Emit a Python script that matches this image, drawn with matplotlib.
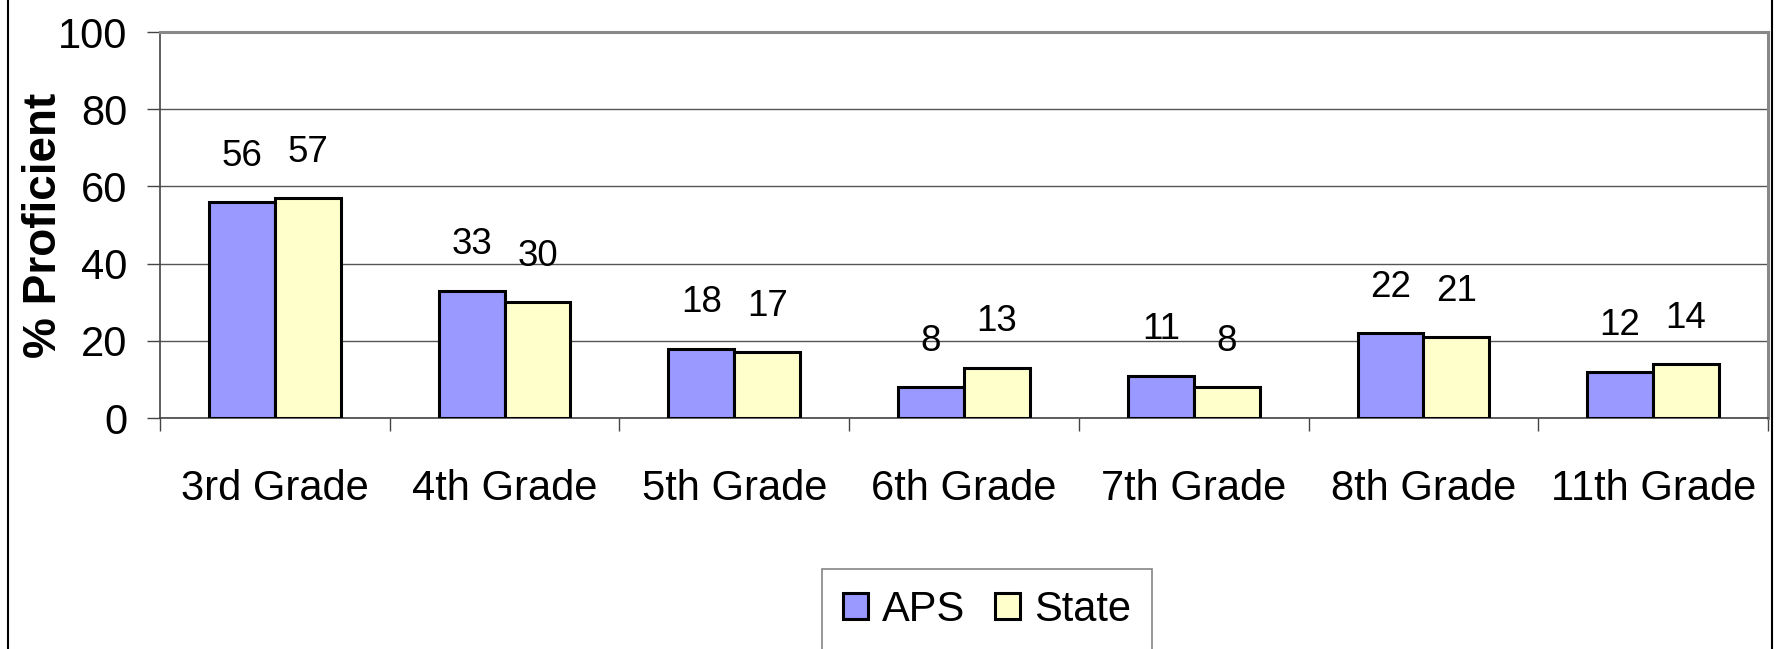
import numpy as np
import matplotlib
matplotlib.use("Agg")
import matplotlib.pyplot as plt
from matplotlib.lines import Line2D

plt.rcParams['font.family'] = ['Liberation Sans', 'DejaVu Sans']

grades = ["3rd Grade", "4th Grade", "5th Grade", "6th Grade",
          "7th Grade", "8th Grade", "11th Grade"]
aps = [56, 33, 18, 8, 11, 22, 12]
state = [57, 30, 17, 13, 8, 21, 14]

fig = plt.figure(figsize=(17.79, 6.49), dpi=100)
ax = fig.add_axes([160/1779, 1 - 418/649, (1768-160)/1779, (418-32)/649])

x = np.arange(len(grades))
w = 0.287
b1 = ax.bar(x - w/2, aps, w, color="#9999FF", edgecolor="black", linewidth=2.2, label="APS", zorder=3)
b2 = ax.bar(x + w/2, state, w, color="#FFFFCC", edgecolor="black", linewidth=2.2, label="State", zorder=3)

for bars, vals in ((b1, aps), (b2, state)):
    for r, v in zip(bars, vals):
        ax.annotate(str(v), (r.get_x() + r.get_width()/2, v), xytext=(0, 33),
                    textcoords="offset points", ha="center", va="center", fontsize=26.5)

ax.set_xlim(-0.5, len(grades) - 0.5)
ax.set_ylim(0, 100)
ax.set_yticks([0, 20, 40, 60, 80, 100])
ax.yaxis.grid(True, color="#555555", linewidth=1.0, zorder=0)

ax.set_xticks(x)
ax.set_xticklabels(grades)
ax.set_xticks(np.arange(-0.5, len(grades)), minor=True)
ax.tick_params(axis="x", which="major", length=0, pad=37, labelsize=30)
ax.tick_params(axis="x", which="minor", length=9.5, width=1, color="#444444")
ax.tick_params(axis="y", length=9.5, width=1, color="#444444", pad=14, labelsize=30)

ax.spines["left"].set_color("#444444")
ax.spines["left"].set_linewidth(1.2)
ax.spines["bottom"].set_color("#444444")
ax.spines["bottom"].set_linewidth(1.2)
ax.spines["top"].set_color("#888888")
ax.spines["top"].set_linewidth(2.2)
ax.spines["right"].set_color("#888888")
ax.spines["right"].set_linewidth(2.2)

fig.text(44/1779, 1 - 225/649, "% Proficient", rotation=90, ha="center", va="center",
         fontsize=33, fontweight="bold")

leg = fig.legend(handles=[b1, b2], loc="upper center", bbox_to_anchor=(987/1779, 1 - 569/649),
                 ncol=2, fontsize=30, frameon=True, fancybox=False, handlelength=0.6,
                 handleheight=0.6, handletextpad=0.35, columnspacing=0.7, borderpad=0.5,
                 borderaxespad=0)
leg.get_frame().set_edgecolor("#666666")
leg.get_frame().set_linewidth(1.2)

# outer chart frame (left/right edges)
fig.add_artist(Line2D([8/1779, 8/1779], [0, 1], color="black", linewidth=1.5))
fig.add_artist(Line2D([1772/1779, 1772/1779], [0, 1], color="black", linewidth=1.5))

fig.savefig("out.png", dpi=100)
